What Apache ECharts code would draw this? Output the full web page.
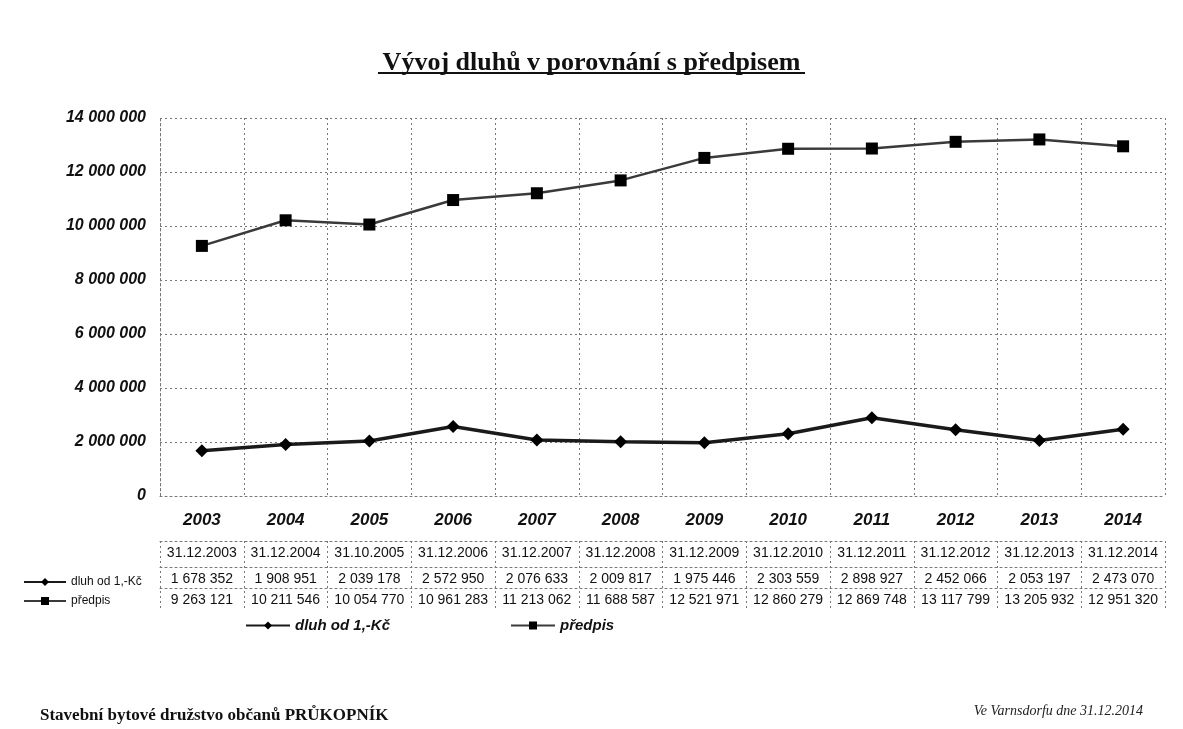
<!DOCTYPE html>
<html lang="cs">
<head>
    <meta charset="UTF-8">
    <title>Vývoj dluhů v porovnání s předpisem</title>
    <script src="https://cdn.jsdelivr.net/npm/echarts@6.0.0/dist/echarts.min.js"></script>
    <style>
        html, body { margin: 0; padding: 0; background: #fff; }
        #chart { width: 1183px; height: 729px; }
    </style>
</head>
<body>
    <div id="chart"></div>
    <script>
        // Data z tabulky pod grafem
        const years = ['2003', '2004', '2005', '2006', '2007', '2008', '2009', '2010', '2011', '2012', '2013', '2014'];
        const dates = ['31.12.2003', '31.12.2004', '31.10.2005', '31.12.2006', '31.12.2007', '31.12.2008',
                       '31.12.2009', '31.12.2010', '31.12.2011', '31.12.2012', '31.12.2013', '31.12.2014'];
        const dluh = [1678352, 1908951, 2039178, 2572950, 2076633, 2009817, 1975446, 2303559, 2898927, 2452066, 2053197, 2473070];
        const predpis = [9263121, 10211546, 10054770, 10961283, 11213062, 11688587, 12521971, 12860279, 12869748, 13117799, 13205932, 12951320];

        const fmt = v => String(v).replace(/\B(?=(\d{3})+(?!\d))/g, ' ');

        const chart = echarts.init(document.getElementById('chart'));
        const dotted = { color: '#777', width: 1, type: [2, 3] };
        const tableLabel = {
            color: '#111', fontFamily: 'Liberation Sans', fontSize: 14, margin: 5,
            interval: 0, hideOverlap: false
        };

        // pomocna osa pro radky tabulky
        function tableAxis(data, offset, withTicks) {
            return {
                type: 'category',
                data: data,
                position: 'bottom',
                offset: offset,
                axisLine: { show: true, lineStyle: dotted },
                axisTick: { show: withTicks, interval: 0, length: 70, lineStyle: dotted },
                axisLabel: tableLabel,
                splitLine: { show: false }
            };
        }

        chart.setOption({
            animation: false,
            backgroundColor: '#fff',
            textStyle: { fontFamily: 'Liberation Sans' },
            title: {
                text: 'Vývoj dluhů v porovnání s předpisem',
                left: 'center',
                top: 45,
                textStyle: { fontFamily: 'Liberation Serif', fontWeight: 'bold', fontSize: 26, color: '#111' }
            },
            grid: { left: 160, right: 18, top: 118, bottom: 233 },
            legend: [{
                orient: 'vertical',
                left: 18,
                top: 571,
                itemGap: 7,
                itemWidth: 42,
                itemHeight: 10,
                textStyle: { fontSize: 12, color: '#111' },
                data: ['dluh od 1,-Kč', 'předpis']
            }, {
                orient: 'horizontal',
                left: 240,
                top: 613,
                itemGap: 120,
                itemWidth: 44,
                itemHeight: 10,
                textStyle: { fontSize: 15, fontWeight: 'bold', fontStyle: 'italic', color: '#111' },
                data: ['dluh od 1,-Kč', 'předpis']
            }],
            xAxis: [{
                type: 'category',
                data: years,
                axisLine: { show: true, lineStyle: dotted },
                axisTick: { show: false },
                axisLabel: {
                    fontSize: 17, fontWeight: 'bold', fontStyle: 'italic', color: '#111', margin: 16,
                    interval: 0
                },
                splitLine: { show: true, interval: 0, lineStyle: dotted }
            },
                tableAxis(dates, 45, true),
                tableAxis(dluh.map(fmt), 71, false),
                tableAxis(predpis.map(fmt), 92, false)
            ],
            yAxis: {
                type: 'value',
                min: 0,
                max: 14000000,
                interval: 2000000,
                axisLine: { show: true, lineStyle: dotted },
                axisTick: { show: false },
                axisLabel: {
                    fontSize: 16, fontWeight: 'bold', fontStyle: 'italic', color: '#111', margin: 14,
                    formatter: v => fmt(v)
                },
                splitLine: { show: true, lineStyle: dotted }
            },
            series: [{
                name: 'dluh od 1,-Kč',
                type: 'line',
                data: dluh,
                symbol: 'diamond',
                symbolSize: 13,
                lineStyle: { color: '#1a1a1a', width: 3.5 },
                itemStyle: { color: '#000' }
            }, {
                name: 'předpis',
                type: 'line',
                data: predpis,
                symbol: 'rect',
                symbolSize: 12,
                lineStyle: { color: '#3a3a3a', width: 2.5 },
                itemStyle: { color: '#000' }
            }],
            graphic: [{
                type: 'rect',
                left: 'center',
                top: 72,
                shape: { width: 427, height: 2 },
                style: { fill: '#111' }
            }, {
                type: 'text',
                left: 40,
                top: 707,
                style: {
                    text: 'Stavební bytové družstvo občanů PRŮKOPNÍK',
                    font: 'bold 17px "Liberation Serif"',
                    fill: '#111'
                }
            }, {
                type: 'text',
                right: 40,
                top: 704,
                style: {
                    text: 'Ve Varnsdorfu dne 31.12.2014',
                    font: 'italic 14px "Liberation Serif"',
                    fill: '#222'
                }
            }]
        });
    </script>
</body>
</html>
